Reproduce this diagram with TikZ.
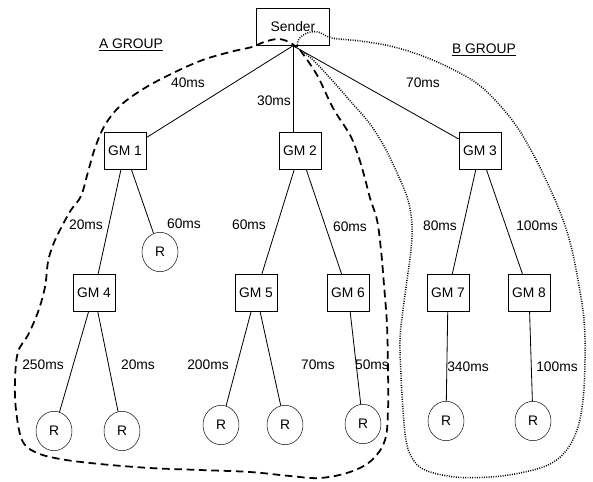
\documentclass[tikz,border=0pt]{standalone}
\usepackage{fontspec}
\setmainfont{Liberation Sans}
\usetikzlibrary{shapes.geometric}
\begin{document}
\begin{tikzpicture}[x=0.03cm,y=-0.03cm,
    font=\fontsize{11.8}{13}\selectfont,
    gm/.style={
      % group member boxes
      rectangle,draw,minimum width=1.26cm,minimum height=1.1cm,inner sep=1pt},
    sender/.style={rectangle,draw,minimum width=2.19cm,minimum height=1.11cm,inner sep=1pt},
    host/.style={ellipse,draw,minimum width=1.08cm,minimum height=1.18cm,inner sep=0pt},
    delay/.style={inner sep=1pt},
    link/.style={line width=0.7pt},
    agroup/.style={line width=1.5pt,dash pattern=on 6.5pt off 4pt},
    bgroup/.style={line width=1.3pt,dash pattern=on 0.8pt off 1.2pt}]
  \useasboundingbox (0,0) rectangle (593,482);
  \node (sender) [sender] at (293,27) {Sender};
  \node (gm1) [gm] at (125,151) {GM 1};
  \node (gm2) [gm] at (300,151) {GM 2};
  \node (gm3) [gm] at (480,151) {GM 3};
  \node (r1)  [host] at (160,252) {R};
  \node (gm4) [gm] at (94,293) {GM 4};
  \node (gm5) [gm] at (256,293) {GM 5};
  \node (gm6) [gm] at (348,293) {GM 6};
  \node (gm7) [gm] at (448,293) {GM 7};
  \node (gm8) [gm] at (529,293) {GM 8};
  \node (r4a) [host] at (54,431) {R};
  \node (r4b) [host] at (122,431) {R};
  \node (r5a) [host] at (221,425) {R};
  \node (r5b) [host] at (285,425) {R};
  \node (r6)  [host] at (363,424) {R};
  \node (r7)  [host] at (446,421) {R};
  \node (r8)  [host] at (533,421) {R};
  % tree links
  \draw[link] (sender.south) edge (gm1);
  \draw[link] (sender.south) edge (sender.south |- gm2.north);
  \draw[link] (sender.south) edge (gm3);
  \draw[link] (gm1) edge (gm4);
  \draw[link] (gm1) edge (r1);
  \draw[link] (gm2) edge (gm5);
  \draw[link] (gm2) edge (gm6);
  \draw[link] (gm3) edge (gm7);
  \draw[link] (gm3) edge (gm8);
  \draw[link] (gm4) edge (r4a);
  \draw[link] (gm4) edge (r4b);
  \draw[link] (gm5) edge (r5a);
  \draw[link] (gm5) edge (r5b);
  \draw[link] (gm6) edge (r6);
  \draw[link] (gm7) edge (r7);
  \draw[link] (gm8) edge (r8);
  % delays
  \node (d40)   [delay] at (188,83)  {40ms};
  \node (d30)   [delay] at (274,101) {30ms};
  \node (d70)   [delay] at (423,83)  {70ms};
  \node (d20a)  [delay] at (86,225)  {20ms};
  \node (d60a)  [delay] at (184,224) {60ms};
  \node (d60b)  [delay] at (249,225) {60ms};
  \node (d60c)  [delay] at (350,227) {60ms};
  \node (d80)   [delay] at (440,226) {80ms};
  \node (d100a) [delay] at (537,226) {100ms};
  \node (d250)  [delay] at (43,365)  {250ms};
  \node (d20b)  [delay] at (138,365) {20ms};
  \node (d200)  [delay] at (208,365) {200ms};
  \node (d70b)  [delay] at (318,365) {70ms};
  \node (d50)   [delay] at (372,365) {50ms};
  \node (d340)  [delay] at (468,367) {340ms};
  \node (d100b) [delay] at (557,367) {100ms};
  % groups
  \node (agrp) at (131,45) {\underline{A GROUP}};
  \node (bgrp) at (484,50) {\underline{B GROUP}};
  \draw[agroup] plot[smooth,tension=0.6] coordinates {
    (300,50) (317,75) (333,108) (350,135) (358,155) (364,175) (370,198)
    (377,220) (381,250) (384,285) (387,325) (388,370) (388,410) (385,440)
    (372,460) (350,472) (320,478) (290,476) (250,472) (200,470) (150,468)
    (100,464) (60,459) (35,452) (22,440) (16,410) (15,380) (18,352)
    (28,335) (38,312) (45,287) (48,262) (53,245) (61,228) (71,210)
    (81,196) (88,172) (95,148) (105,125) (120,106) (140,91) (165,77)
    (200,61) (230,52) (252,47) (264,42) (278,39) (289,42) (296,47)};
  \draw[bgroup] plot[smooth,tension=0.6] coordinates {
    (297,47) (299,39) (307,33) (318,32) (332,38) (360,41) (390,46)
    (420,55) (448,67) (475,82) (495,100) (515,124) (532,152) (547,182)
    (560,212) (570,242) (578,280) (584,320) (585,360) (583,400) (577,430)
    (565,452) (548,465) (520,473) (490,477) (455,477) (425,470) (412,458)
    (406,440) (403,410) (401,375) (400,340) (403,310) (407,280) (411,250)
    (412,225) (408,200) (398,175) (385,148) (370,124) (352,103) (330,78)
    (312,59) (300,50)};
\end{tikzpicture}
\end{document}
